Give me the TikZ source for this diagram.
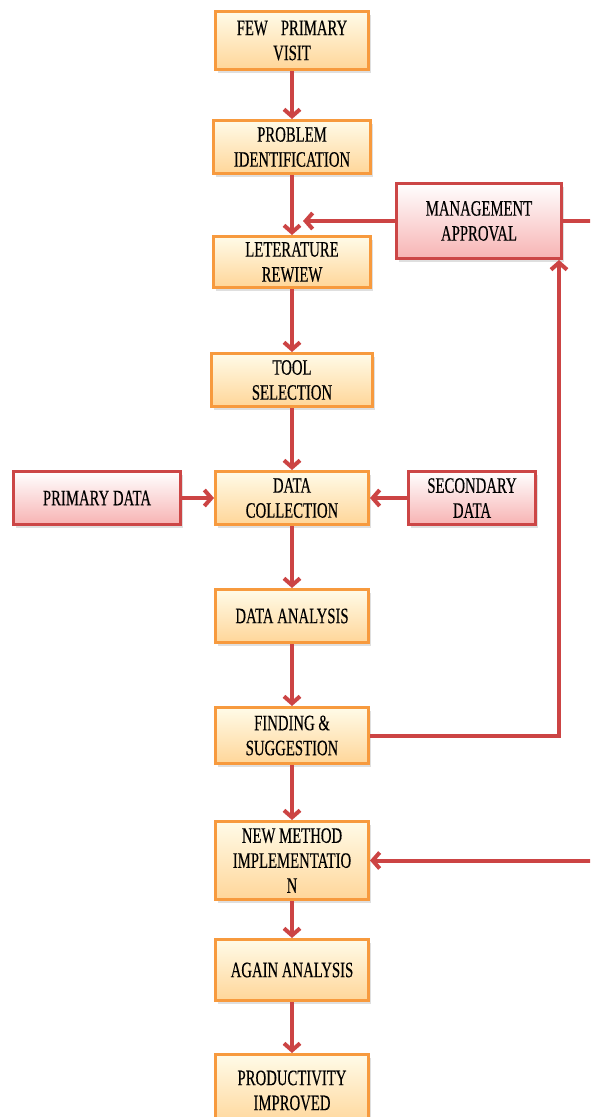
\documentclass[tikz,border=0pt]{standalone}
\usepackage{fontspec}
\setmainfont{Liberation Serif}[FakeStretch=0.67,FakeBold=0.3]
\usepackage{tikz}
\usetikzlibrary{arrows.meta,positioning,shadows}
\definecolor{boxorange}{HTML}{F79A3E}
\definecolor{orangetop}{HTML}{FFFBE8}
\definecolor{orangebottom}{HTML}{FFD699}
\definecolor{boxred}{HTML}{CC4646}
\definecolor{pinkbottom}{HTML}{F7B3B3}
\definecolor{arrowred}{HTML}{CC4444}
\tikzset{
    %Define standard arrow tip
    >={Straight Barb[length=7pt,width=16pt]},
    %Define style for a step of the flow
    stepbox/.style={rectangle, draw=boxorange, line width=3pt, top color=orangetop, bottom color=orangebottom,
        minimum width=153pt, minimum height=53pt, align=center, inner sep=3pt,
        font=\fontsize{22}{25}\selectfont,
        drop shadow={shadow xshift=2pt, shadow yshift=-3pt, opacity=0.25}},
    %Define style for a side input
    sidebox/.style={stepbox, draw=boxred, top color=white, bottom color=pinkbottom},
    %Define style for connectors
    flow/.style={->, draw=arrowred, line width=4pt},
}

\begin{document}
\begin{tikzpicture}[x=1pt, y=1pt, node distance=62pt]
    \useasboundingbox (0,0) rectangle (590,-1117);
    \clip (0,0) rectangle (590,-1117);
    	\node[stepbox, minimum height=58pt](visit) at (292,-40.5){FEW\hspace{13pt}PRIMARY\\VISIT};
    	\node[stepbox, below=48pt of visit, minimum width=157pt](problem){PROBLEM\\IDENTIFICATION};
    	\node[stepbox, below=60pt of problem, minimum width=157pt, minimum height=51pt](review){LETERATURE\\REWIEW};
    	\node[stepbox, below=63pt of review, minimum width=161pt](tool){TOOL\\SELECTION};
    	\node[stepbox, below=of tool](collect){DATA\\COLLECTION};
    	\node[stepbox, below=of collect](analysis){DATA ANALYSIS};
    	\node[stepbox, below=of analysis, minimum height=56pt](finding){FINDING \&\\SUGGESTION};
    	\node[stepbox, below=55pt of finding, minimum height=78pt](method){NEW METHOD\\IMPLEMENTATIO\\N};
    	\node[stepbox, below=37pt of method, minimum height=61pt](again){AGAIN ANALYSIS};
    	\node[stepbox, below=51pt of again, minimum height=72pt](improved){PRODUCTIVITY\\IMPROVED};
    	\node[sidebox, minimum width=165pt, minimum height=75pt](approval) at (479,-221){MANAGEMENT\\APPROVAL};
    	\node[sidebox, left=32pt of collect, minimum width=167pt](primary){PRIMARY DATA};
    	\node[sidebox, right=37pt of collect, minimum width=127pt](secondary){SECONDARY\\DATA};
    	\coordinate (join) at (303,-221);
    	\coordinate (loop) at (610,-500);
    
        \path(visit) edge [flow] (problem);
        \path(problem) edge [flow] (review);
        \path(review) edge [flow] (tool);
        \path(tool) edge [flow] (collect);
        \path(collect) edge [flow] (analysis);
        \path(analysis) edge [flow] (finding);
        \path(finding) edge [flow] (method);
        \path(method) edge [flow] (again);
        \path(again) edge [flow] (improved);
        \path(primary) edge [flow] (collect);
        \path(secondary) edge [flow] (collect);
        \path(approval) edge [flow] (join);
        \draw[flow] (finding.east) -| ([xshift=-4pt]approval.south east);
        \draw[flow] (approval.east) -| (loop) |- (method.east);
    \end{tikzpicture}
\end{document}
